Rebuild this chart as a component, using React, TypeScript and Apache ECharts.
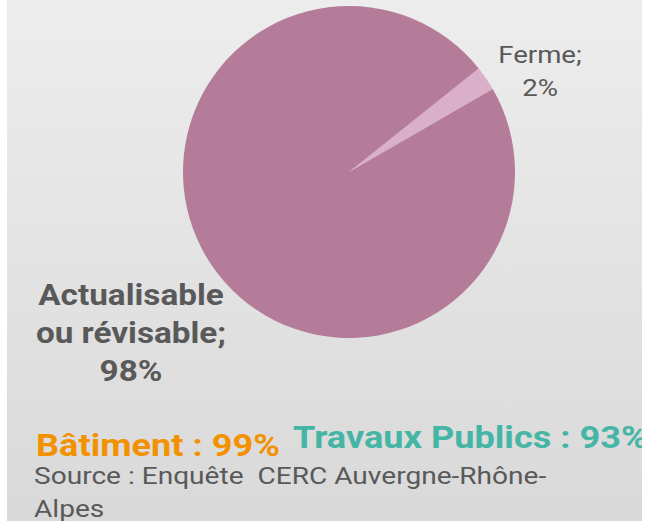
import React, { useEffect, useRef } from "react";
import * as echarts from "echarts";

const categories = ["Ferme", "Actualisable ou révisable"];
const labelNames = ["Ferme;", "Actualisable\nou révisable;"];
const values = [2.4, 97.6];
const sliceColors = ["#DAAFC8", "#B47C99"];
const footerBatiment = "Bâtiment : 99%";
const footerTP = "Travaux Publics : 93%";
const sourceLines = ["Source : Enquête  CERC Auvergne-Rhône-", "Alpes"];

export default function App() {
  const ref = useRef<HTMLDivElement>(null);
  useEffect(() => {
    if (!ref.current) return;
    const chart = echarts.init(ref.current, null, { renderer: "svg" });
    const font = "Roboto, 'Noto Sans', sans-serif";
    const sliceLabel = (i: number) =>
      `${labelNames[i]}\n${Math.round(values[i])}%`;
    chart.setOption({
      animation: false,
      backgroundColor: "#ffffff",
      graphic: [
        {
          type: "rect",
          z: -10,
          silent: true,
          shape: { x: 7, y: 0, width: 635, height: 521 },
          style: {
            fill: new echarts.graphic.LinearGradient(0, 0, 0, 1, [
              { offset: 0, color: "#ededed" },
              { offset: 1, color: "#d9d9d9" },
            ]),
          },
        },
        {
          type: "text",
          x: 540,
          y: 71.5,
          scaleX: 1.15,
          z: 10,
          style: {
            text: sliceLabel(0),
            fill: "#595959",
            font: `24px ${font}`,
            lineHeight: 33,
            textAlign: "center",
            textVerticalAlign: "middle",
          },
        },
        {
          type: "text",
          x: 131,
          y: 333,
          scaleX: 1.11,
          z: 10,
          style: {
            text: sliceLabel(1),
            fill: "#595959",
            font: `bold 30px ${font}`,
            lineHeight: 38,
            textAlign: "center",
            textVerticalAlign: "middle",
          },
        },
        {
          type: "text",
          x: 36,
          y: 445,
          scaleX: 1.13,
          z: 10,
          style: {
            text: footerBatiment,
            fill: "#F39200",
            font: `bold 32px ${font}`,
            textAlign: "left",
            textVerticalAlign: "middle",
          },
        },
        {
          type: "text",
          x: 293,
          y: 436.5,
          scaleX: 1.13,
          z: 10,
          style: {
            text: footerTP,
            fill: "#45B5A5",
            font: `bold 32px ${font}`,
            textAlign: "left",
            textVerticalAlign: "middle",
          },
        },
        {
          type: "text",
          x: 34,
          y: 492,
          scaleX: 1.17,
          z: 10,
          style: {
            text: sourceLines.join("\n"),
            fill: "#595959",
            font: `24px ${font}`,
            lineHeight: 33,
            textAlign: "left",
            textVerticalAlign: "middle",
          },
        },
        {
          type: "rect",
          z: 100,
          silent: true,
          shape: { x: 642, y: 0, width: 19, height: 521 },
          style: { fill: "#ffffff" },
        },
      ],
      series: [
        {
          type: "pie",
          center: [349, 172],
          radius: 166,
          startAngle: 38.6,
          clockwise: true,
          silent: true,
          label: { show: false },
          labelLine: { show: false },
          data: categories.map((c, i) => ({
            name: c,
            value: values[i],
            itemStyle: { color: sliceColors[i] },
          })),
        },
      ],
    });
    return () => chart.dispose();
  }, []);
  return (
    <div
      ref={ref}
      style={{ position: "absolute", left: 0, top: 0, width: 661, height: 521 }}
    />
  );
}
